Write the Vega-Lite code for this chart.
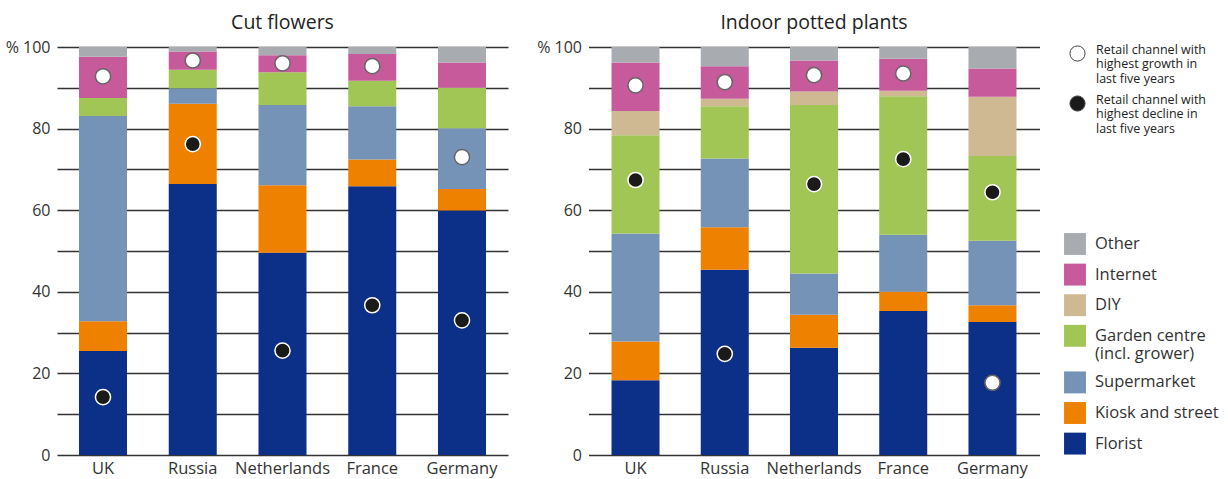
{
  "$schema": "https://vega.github.io/schema/vega-lite/v6.json",
  "padding": {"left": 5, "top": 12, "right": 5, "bottom": 3},
  "background": "white",
  "datasets": {
    "bars": [
      {"product":"Cut flowers","country":"UK","channel":"Florist","rank":1,"value":25.5},
      {"product":"Cut flowers","country":"UK","channel":"Kiosk and street","rank":2,"value":7.3},
      {"product":"Cut flowers","country":"UK","channel":"Supermarket","rank":3,"value":50.3},
      {"product":"Cut flowers","country":"UK","channel":"Garden centre (incl. grower)","rank":4,"value":4.4},
      {"product":"Cut flowers","country":"UK","channel":"Internet","rank":6,"value":10.1},
      {"product":"Cut flowers","country":"UK","channel":"Other","rank":7,"value":2.4},
      {"product":"Cut flowers","country":"Russia","channel":"Florist","rank":1,"value":66.4},
      {"product":"Cut flowers","country":"Russia","channel":"Kiosk and street","rank":2,"value":19.7},
      {"product":"Cut flowers","country":"Russia","channel":"Supermarket","rank":3,"value":3.8},
      {"product":"Cut flowers","country":"Russia","channel":"Garden centre (incl. grower)","rank":4,"value":4.5},
      {"product":"Cut flowers","country":"Russia","channel":"Internet","rank":6,"value":4.5},
      {"product":"Cut flowers","country":"Russia","channel":"Other","rank":7,"value":1.1},
      {"product":"Cut flowers","country":"Netherlands","channel":"Florist","rank":1,"value":49.6},
      {"product":"Cut flowers","country":"Netherlands","channel":"Kiosk and street","rank":2,"value":16.5},
      {"product":"Cut flowers","country":"Netherlands","channel":"Supermarket","rank":3,"value":19.7},
      {"product":"Cut flowers","country":"Netherlands","channel":"Garden centre (incl. grower)","rank":4,"value":8.0},
      {"product":"Cut flowers","country":"Netherlands","channel":"Internet","rank":6,"value":4.2},
      {"product":"Cut flowers","country":"Netherlands","channel":"Other","rank":7,"value":2.0},
      {"product":"Cut flowers","country":"France","channel":"Florist","rank":1,"value":65.9},
      {"product":"Cut flowers","country":"France","channel":"Kiosk and street","rank":2,"value":6.5},
      {"product":"Cut flowers","country":"France","channel":"Supermarket","rank":3,"value":13.1},
      {"product":"Cut flowers","country":"France","channel":"Garden centre (incl. grower)","rank":4,"value":6.2},
      {"product":"Cut flowers","country":"France","channel":"Internet","rank":6,"value":6.6},
      {"product":"Cut flowers","country":"France","channel":"Other","rank":7,"value":1.7},
      {"product":"Cut flowers","country":"Germany","channel":"Florist","rank":1,"value":59.9},
      {"product":"Cut flowers","country":"Germany","channel":"Kiosk and street","rank":2,"value":5.3},
      {"product":"Cut flowers","country":"Germany","channel":"Supermarket","rank":3,"value":14.9},
      {"product":"Cut flowers","country":"Germany","channel":"Garden centre (incl. grower)","rank":4,"value":9.9},
      {"product":"Cut flowers","country":"Germany","channel":"Internet","rank":6,"value":6.2},
      {"product":"Cut flowers","country":"Germany","channel":"Other","rank":7,"value":3.8},
      {"product":"Indoor potted plants","country":"UK","channel":"Florist","rank":1,"value":18.3},
      {"product":"Indoor potted plants","country":"UK","channel":"Kiosk and street","rank":2,"value":9.5},
      {"product":"Indoor potted plants","country":"UK","channel":"Supermarket","rank":3,"value":26.5},
      {"product":"Indoor potted plants","country":"UK","channel":"Garden centre (incl. grower)","rank":4,"value":24.1},
      {"product":"Indoor potted plants","country":"UK","channel":"DIY","rank":5,"value":5.9},
      {"product":"Indoor potted plants","country":"UK","channel":"Internet","rank":6,"value":11.9},
      {"product":"Indoor potted plants","country":"UK","channel":"Other","rank":7,"value":3.8},
      {"product":"Indoor potted plants","country":"Russia","channel":"Florist","rank":1,"value":45.4},
      {"product":"Indoor potted plants","country":"Russia","channel":"Kiosk and street","rank":2,"value":10.4},
      {"product":"Indoor potted plants","country":"Russia","channel":"Supermarket","rank":3,"value":16.9},
      {"product":"Indoor potted plants","country":"Russia","channel":"Garden centre (incl. grower)","rank":4,"value":12.8},
      {"product":"Indoor potted plants","country":"Russia","channel":"DIY","rank":5,"value":1.8},
      {"product":"Indoor potted plants","country":"Russia","channel":"Internet","rank":6,"value":8.0},
      {"product":"Indoor potted plants","country":"Russia","channel":"Other","rank":7,"value":4.7},
      {"product":"Indoor potted plants","country":"Netherlands","channel":"Florist","rank":1,"value":26.3},
      {"product":"Indoor potted plants","country":"Netherlands","channel":"Kiosk and street","rank":2,"value":8.1},
      {"product":"Indoor potted plants","country":"Netherlands","channel":"Supermarket","rank":3,"value":10.1},
      {"product":"Indoor potted plants","country":"Netherlands","channel":"Garden centre (incl. grower)","rank":4,"value":41.3},
      {"product":"Indoor potted plants","country":"Netherlands","channel":"DIY","rank":5,"value":3.3},
      {"product":"Indoor potted plants","country":"Netherlands","channel":"Internet","rank":6,"value":7.6},
      {"product":"Indoor potted plants","country":"Netherlands","channel":"Other","rank":7,"value":3.3},
      {"product":"Indoor potted plants","country":"France","channel":"Florist","rank":1,"value":35.3},
      {"product":"Indoor potted plants","country":"France","channel":"Kiosk and street","rank":2,"value":4.7},
      {"product":"Indoor potted plants","country":"France","channel":"Supermarket","rank":3,"value":14.0},
      {"product":"Indoor potted plants","country":"France","channel":"Garden centre (incl. grower)","rank":4,"value":33.9},
      {"product":"Indoor potted plants","country":"France","channel":"DIY","rank":5,"value":1.4},
      {"product":"Indoor potted plants","country":"France","channel":"Internet","rank":6,"value":7.8},
      {"product":"Indoor potted plants","country":"France","channel":"Other","rank":7,"value":2.9},
      {"product":"Indoor potted plants","country":"Germany","channel":"Florist","rank":1,"value":32.6},
      {"product":"Indoor potted plants","country":"Germany","channel":"Kiosk and street","rank":2,"value":4.1},
      {"product":"Indoor potted plants","country":"Germany","channel":"Supermarket","rank":3,"value":15.8},
      {"product":"Indoor potted plants","country":"Germany","channel":"Garden centre (incl. grower)","rank":4,"value":20.8},
      {"product":"Indoor potted plants","country":"Germany","channel":"DIY","rank":5,"value":14.5},
      {"product":"Indoor potted plants","country":"Germany","channel":"Internet","rank":6,"value":6.9},
      {"product":"Indoor potted plants","country":"Germany","channel":"Other","rank":7,"value":5.3}
    ],
    "points": [
      {"product":"Cut flowers","country":"UK","type":"growth","y":92.8},
      {"product":"Cut flowers","country":"UK","type":"decline","y":14.2},
      {"product":"Cut flowers","country":"Russia","type":"growth","y":96.7},
      {"product":"Cut flowers","country":"Russia","type":"decline","y":76.2},
      {"product":"Cut flowers","country":"Netherlands","type":"growth","y":96.0},
      {"product":"Cut flowers","country":"Netherlands","type":"decline","y":25.6},
      {"product":"Cut flowers","country":"France","type":"growth","y":95.3},
      {"product":"Cut flowers","country":"France","type":"decline","y":36.7},
      {"product":"Cut flowers","country":"Germany","type":"growth","y":73.0},
      {"product":"Cut flowers","country":"Germany","type":"decline","y":33.0},
      {"product":"Indoor potted plants","country":"UK","type":"growth","y":90.6},
      {"product":"Indoor potted plants","country":"UK","type":"decline","y":67.4},
      {"product":"Indoor potted plants","country":"Russia","type":"growth","y":91.4},
      {"product":"Indoor potted plants","country":"Russia","type":"decline","y":24.8},
      {"product":"Indoor potted plants","country":"Netherlands","type":"growth","y":93.1},
      {"product":"Indoor potted plants","country":"Netherlands","type":"decline","y":66.4},
      {"product":"Indoor potted plants","country":"France","type":"growth","y":93.5},
      {"product":"Indoor potted plants","country":"France","type":"decline","y":72.5},
      {"product":"Indoor potted plants","country":"Germany","type":"growth","y":17.7},
      {"product":"Indoor potted plants","country":"Germany","type":"decline","y":64.4}
    ]
  },
  "config": {
    "font": "Open Sans",
    "view": {"stroke": null},
    "axis": {"labelFont": "Open Sans", "labelColor": "#333333", "labelFontSize": 16, "ticks": false, "domain": false, "title": null},
    "title": {"font": "Open Sans", "fontSize": 19.5, "fontWeight": "normal", "color": "#222222", "offset": 6}
  },
  "spacing": 28.5,
  "hconcat": [
    {
      "title": "Cut flowers",
      "width": 451,
      "height": 408,
      "layer": [
        {
          "data": {"name": "bars"},
          "transform": [{"filter": "datum.product == 'Cut flowers'"}],
          "mark": {"type": "bar"},
          "encoding": {
            "x": {"field": "country", "type": "nominal", "sort": ["UK","Russia","Netherlands","France","Germany"], "scale": {"paddingInner": 0.465, "paddingOuter": 0.245}, "axis": {"labelAngle": 0, "labelPadding": 5, "grid": false, "labelFontSize": 16.5}},
            "y": {"field": "value", "type": "quantitative", "stack": "zero", "scale": {"domain": [0, 100], "nice": false}, "axis": {"values": [0,10,20,30,40,50,60,70,80,90,100], "labelExpr": "datum.value % 20 == 0 ? (datum.value == 100 ? '% 100' : datum.label) : ''", "grid": true, "gridColor": "#333333", "gridWidth": 1.4, "labelPadding": 7}},
            "color": {"field": "channel", "type": "nominal", "scale": {"domain": ["Other","Internet","DIY","Garden centre (incl. grower)","Supermarket","Kiosk and street","Florist"], "range": ["#a8acb1","#c65a9b","#cfb993","#a2c655","#7592b7","#ee8200","#0c3088"]},
              "legend": {"title": null, "orient": "none", "legendX": 1007, "legendY": 186, "symbolType": "square", "symbolSize": 480, "symbolStrokeWidth": 0, "labelFontSize": 16.5, "labelColor": "#333333", "labelFont": "Open Sans", "rowPadding": 8.6, "labelOffset": 9, "labelExpr": "datum.label == 'Garden centre (incl. grower)' ? ['Garden centre', '(incl. grower)'] : datum.label"}},
            "order": {"field": "rank", "type": "quantitative", "sort": "ascending"}
          }
        },
        {
          "data": {"name": "points"},
          "transform": [{"filter": "datum.product == 'Cut flowers'"}],
          "mark": {"type": "point", "filled": true, "size": 230, "strokeWidth": 1.5, "opacity": 1},
          "encoding": {
            "x": {"field": "country", "type": "nominal", "sort": ["UK","Russia","Netherlands","France","Germany"]},
            "y": {"field": "y", "type": "quantitative"},
            "fill": {"field": "type", "type": "nominal", "scale": {"domain": ["growth","decline"], "range": ["#ffffff","#1a1a1a"]},
              "legend": {"title": null, "orient": "none", "legendX": 1012, "legendY": -2, "symbolType": "circle", "symbolSize": 230, "symbolStrokeColor": "#444444", "symbolStrokeWidth": 1, "labelFontSize": 12.5, "labelColor": "#222222", "labelFont": "Open Sans", "rowPadding": 8, "labelOffset": 10, "labelBaseline": "alphabetic", "labelExpr": "datum.value == 'growth' ? ['Retail channel with', 'highest growth in', 'last five years'] : ['Retail channel with', 'highest decline in', 'last five years']"}},
            "stroke": {"condition": {"test": "datum.type == 'growth'", "value": "#666666"}, "value": "#ffffff"}
          }
        }
      ]
    },
    {
      "title": "Indoor potted plants",
      "width": 451,
      "height": 408,
      "layer": [
        {
          "data": {"name": "bars"},
          "transform": [{"filter": "datum.product == 'Indoor potted plants'"}],
          "mark": {"type": "bar"},
          "encoding": {
            "x": {"field": "country", "type": "nominal", "sort": ["UK","Russia","Netherlands","France","Germany"], "scale": {"paddingInner": 0.462, "paddingOuter": 0.258}, "axis": {"labelAngle": 0, "labelPadding": 5, "grid": false, "labelFontSize": 16.5}},
            "y": {"field": "value", "type": "quantitative", "stack": "zero", "scale": {"domain": [0, 100], "nice": false}, "axis": {"values": [0,10,20,30,40,50,60,70,80,90,100], "labelExpr": "datum.value % 20 == 0 ? (datum.value == 100 ? '% 100' : datum.label) : ''", "grid": true, "gridColor": "#333333", "gridWidth": 1.4, "labelPadding": 7}},
            "color": {"field": "channel", "type": "nominal"},
            "order": {"field": "rank", "type": "quantitative", "sort": "ascending"}
          }
        },
        {
          "data": {"name": "points"},
          "transform": [{"filter": "datum.product == 'Indoor potted plants'"}],
          "mark": {"type": "point", "filled": true, "size": 230, "strokeWidth": 1.5, "opacity": 1},
          "encoding": {
            "x": {"field": "country", "type": "nominal", "sort": ["UK","Russia","Netherlands","France","Germany"]},
            "y": {"field": "y", "type": "quantitative"},
            "fill": {"field": "type", "type": "nominal"},
            "stroke": {"condition": {"test": "datum.type == 'growth'", "value": "#666666"}, "value": "#ffffff"}
          }
        }
      ]
    }
  ]
}
